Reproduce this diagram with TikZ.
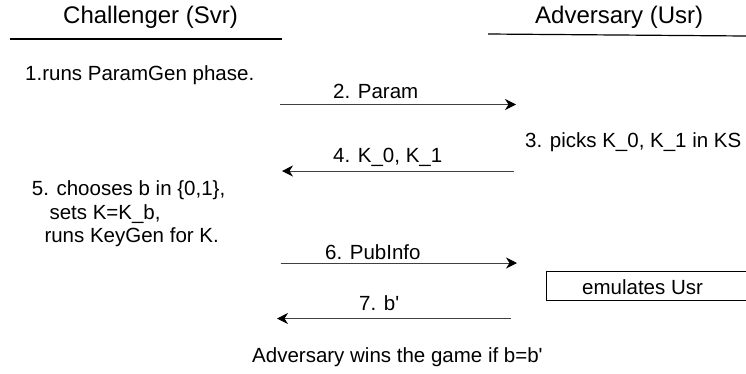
\documentclass[tikz,border=0pt]{standalone}
\usepackage{fontspec}
\setmainfont{Liberation Sans}
\usetikzlibrary{arrows.meta}
\begin{document}
\begin{tikzpicture}[x=1pt,y=-1pt,
  txt/.style={inner sep=0pt,anchor=base west,font=\fontsize{20.5}{24}\selectfont},
  ttl/.style={inner sep=0pt,anchor=base west,font=\fontsize{24}{28}\selectfont},
  msg/.style={draw=black!75,line width=1pt,-{Stealth[length=11pt,width=11pt,inset=3.5pt,color=black]}},
  rule/.style={draw=black,line width=1.2pt}]
\useasboundingbox[fill=white] (0,0) rectangle (746,373);
\node[ttl] (tl) at (63,23) {Challenger (Svr)};
\node[ttl] (tr) at (535,23) {Adversary (Usr)};
\coordinate (l1) at (10,39); \coordinate (l2) at (282,39);
\coordinate (r1) at (488,34); \coordinate (r2) at (746,36);
\draw[rule] (l1) -- (l2);
\draw[rule] (r1) -- (r2);
\node[txt] (s1) at (25,80) {1.runs ParamGen phase.};
\coordinate (a2s) at (280,104.5); \coordinate (a2e) at (516,104.5);
\draw[msg] (a2s) -- (a2e);
\node[txt] (m2) at (333,98) {2. Param};
\node[txt] (s3) at (525,147) {3. picks K\_0, K\_1 in KS};
\coordinate (a4s) at (514,171); \coordinate (a4e) at (282,171);
\draw[msg] (a4s) -- (a4e);
\node[txt] (m4) at (333,162.5) {4. K\_0, K\_1};
\node[txt] (s5a) at (31.7,195) {5. chooses b in \{0,1\},};
\node[txt] (s5b) at (49.3,219.3) {sets K=K\_b,};
\node[txt] (s5c) at (44.3,242.7) {runs KeyGen for K.};
\coordinate (a6s) at (280.5,263); \coordinate (a6e) at (517,263);
\draw[msg] (a6s) -- (a6e);
\node[txt] (m6) at (325,259.5) {6. PubInfo};
\draw[draw=black,line width=1pt] (750,271) -- (546,271) -- (546,300) -- (750,300);
\node[txt] (emu) at (582,294) {emulates Usr};
\coordinate (a7s) at (511,318.5); \coordinate (a7e) at (277,318.5);
\draw[msg] (a7s) -- (a7e);
\node[txt] (m7) at (359,310) {7. b\textquotesingle};
\node[txt] (fin) at (252,362) {Adversary wins the game if b=b\textquotesingle};
\end{tikzpicture}
\end{document}
